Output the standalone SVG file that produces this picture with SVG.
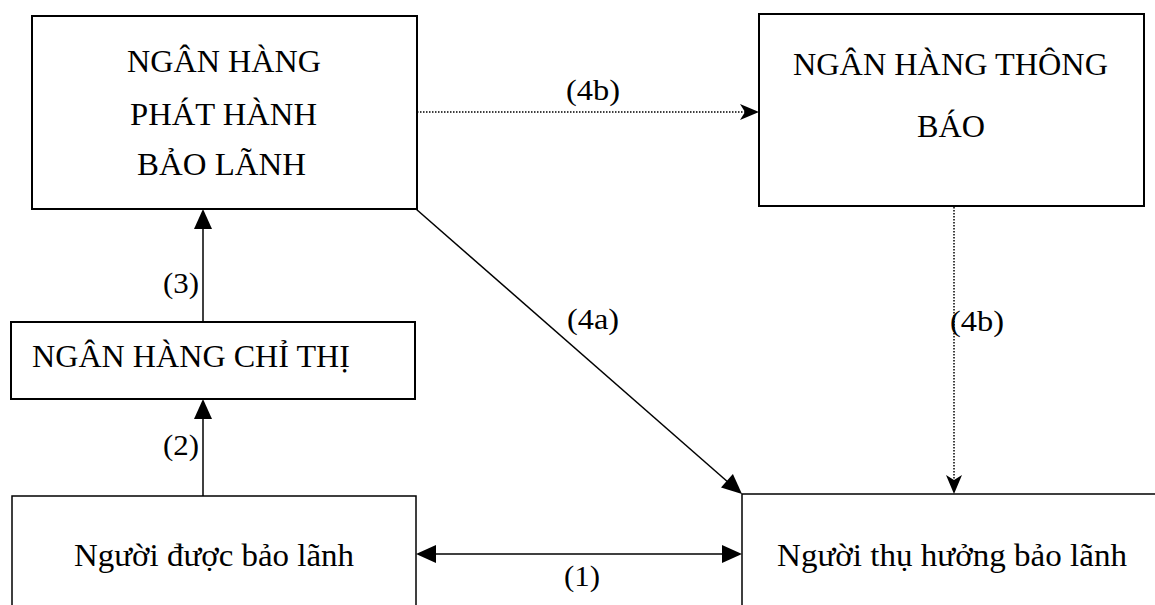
<svg xmlns="http://www.w3.org/2000/svg" width="1155" height="605" viewBox="0 0 1155 605">
<style>
.box{fill:#fff;stroke:#000;stroke-width:2}
.box2{fill:#fff;stroke:#000;stroke-width:1.5}
.t{font-family:"Liberation Serif","Times New Roman",serif;font-size:31px;fill:#000}
.lbl{font-family:"Liberation Serif","Times New Roman",serif;font-size:30px;fill:#000}
.solid{stroke:#000;stroke-width:1.5;fill:none}
.dot{stroke:#000;stroke-width:1.5;fill:none;stroke-dasharray:1.5 1.5}
.head{fill:#000;stroke:none}
</style>
<rect width="1155" height="605" fill="#fff"/>
<g id="connectors">
<line class="solid" x1="203" y1="322" x2="203" y2="226"/>
<polygon class="head" points="203,209 194,229 212,229"/>
<line class="solid" x1="203" y1="496" x2="203" y2="416"/>
<polygon class="head" points="203,399 194,419 212,419"/>
<line class="solid" x1="416" y1="209" x2="729" y2="483"/>
<polygon class="head" points="742,494 721,487.6 732.9,474.1"/>
<line class="dot" x1="417" y1="112" x2="746" y2="112"/>
<polygon class="head" points="759,112 740,104 745,112 740,120"/>
<line class="dot" x1="954" y1="207" x2="954" y2="481"/>
<polygon class="head" points="954,494 946,475 954,480 962,475"/>
<line class="solid" x1="433" y1="554" x2="725" y2="554"/>
<polygon class="head" points="416,554 436,545 436,563"/>
<polygon class="head" points="742,554 722,545 722,563"/>
<text class="lbl" x="566" y="100" textLength="54" lengthAdjust="spacingAndGlyphs">(4b)</text>
<text class="lbl" x="163" y="293" textLength="36" lengthAdjust="spacingAndGlyphs">(3)</text>
<text class="lbl" x="163" y="455" textLength="36" lengthAdjust="spacingAndGlyphs">(2)</text>
<text class="lbl" x="567" y="329" textLength="52" lengthAdjust="spacingAndGlyphs">(4a)</text>
<text class="lbl" x="950" y="331" textLength="54" lengthAdjust="spacingAndGlyphs">(4b)</text>
<text class="lbl" x="564" y="586" textLength="36" lengthAdjust="spacingAndGlyphs">(1)</text>
</g>
<g id="ngan-hang-phat-hanh">
<rect class="box" x="32" y="16" width="385" height="193"/>
<text class="t" x="127" y="72" textLength="194" lengthAdjust="spacingAndGlyphs">NGÂN HÀNG</text>
<text class="t" x="130" y="125" textLength="187" lengthAdjust="spacingAndGlyphs">PHÁT HÀNH</text>
<text class="t" x="137" y="175" textLength="169" lengthAdjust="spacingAndGlyphs">BẢO LÃNH</text>
</g>
<g id="ngan-hang-thong-bao">
<rect class="box" x="759" y="14" width="385" height="192"/>
<text class="t" x="793" y="75" textLength="315" lengthAdjust="spacingAndGlyphs">NGÂN HÀNG THÔNG</text>
<text class="t" x="917" y="137" textLength="68" lengthAdjust="spacingAndGlyphs">BÁO</text>
</g>
<g id="ngan-hang-chi-thi">
<rect class="box" x="11" y="322" width="404" height="77"/>
<text class="t" x="32" y="367" textLength="318" lengthAdjust="spacingAndGlyphs">NGÂN HÀNG CHỈ THỊ</text>
</g>
<g id="nguoi-duoc-bao-lanh">
<rect class="box2" x="12" y="496" width="404" height="130"/>
<text class="t" x="74" y="566" textLength="280" lengthAdjust="spacingAndGlyphs">Người được bảo lãnh</text>
</g>
<g id="nguoi-thu-huong">
<rect class="box2" x="742" y="494" width="430" height="130"/>
<text class="t" x="777" y="566" textLength="350" lengthAdjust="spacingAndGlyphs">Người thụ hưởng bảo lãnh</text>
</g>
</svg>
